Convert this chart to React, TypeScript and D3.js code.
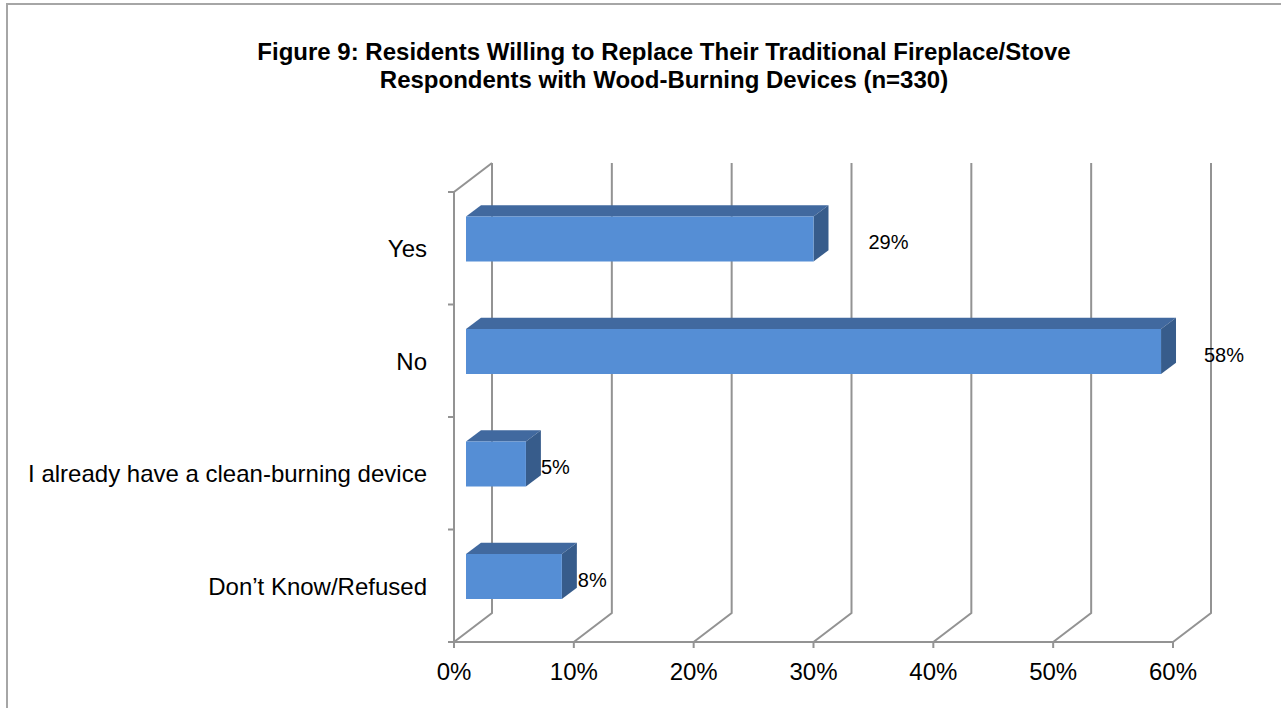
import React from "react";
import * as d3 from "d3";

const categories = ["Yes", "No", "I already have a clean-burning device", "Don\u2019t Know/Refused"];
const values = [29, 58, 5, 8];
const valueLabels = ["29%", "58%", "5%", "8%"];
const xTicks = [0, 10, 20, 30, 40, 50, 60];
const titleLines = [
  "Figure 9: Residents Willing to Replace Their Traditional Fireplace/Stove",
  "Respondents with Wood-Burning Devices (n=330)",
];

const W = 1281;
const H = 708;
const DX = 38; // depth offset x
const DY = 29; // depth offset y
const BAR_D0 = 0.316;
const BAR_D1 = 0.71;
const labelDx = [40, 28, 0, 1];

const FRONT = "#558ED5";
const TOP = "#41699F";
const SIDE = "#375C8B";
const GRID = "#939393";
const FONT = "'Liberation Sans', Arial, sans-serif";

export default function App() {
  const x = d3.scaleLinear().domain([0, 60]).range([454, 1173]);
  const y = d3
    .scaleBand<string>()
    .domain(categories)
    .range([192, 642])
    .paddingInner(0.6)
    .paddingOuter(0.3);
  const top = 192;
  const bottom = 642;
  const step = y.step();
  const bounds = d3.range(categories.length + 1).map((i) => top + i * step);

  const P = (px: number, py: number, d: number): [number, number] => [px + d * DX, py - d * DY];
  const poly = (pts: [number, number][]) => pts.map((p) => p.join(",")).join(" ");

  return (
    <svg
      width={W}
      height={H}
      style={{ position: "absolute", left: 0, top: 0, background: "#fff" }}
      fontFamily={FONT}
    >
      <rect x={7} y={4} width={W + 10} height={H + 10} fill="#fff" stroke="#a6a6a6" strokeWidth={2} />
      {titleLines.map((t, i) => (
        <text
          key={i}
          x={664}
          y={60 + i * 28}
          textAnchor="middle"
          fontSize={24}
          fontWeight="bold"
          fill="#000"
        >
          {t}
        </text>
      ))}

      {/* back gridlines with floor diagonals */}
      {xTicks.map((t) => {
        const [bx, by] = P(x(t), bottom, 1);
        const [tx, ty] = P(x(t), top, 1);
        return (
          <polyline
            key={t}
            points={poly([[tx, ty], [bx, by], [x(t), bottom]])}
            fill="none"
            stroke={GRID}
            strokeWidth={2}
          />
        );
      })}
      {/* left wall front edge */}
      <polyline
        points={poly([P(x(0), top, 1), [x(0), top], [x(0), bottom]])}
        fill="none"
        stroke={GRID}
        strokeWidth={2}
      />
      {/* floor front edge */}
      <line x1={x(0) - 6} y1={bottom} x2={x(60)} y2={bottom} stroke={GRID} strokeWidth={2} />
      {bounds.map((b, i) => (
        <line key={i} x1={x(0) - 6} y1={b} x2={x(0)} y2={b} stroke={GRID} strokeWidth={2} />
      ))}
      {xTicks.map((t) => (
        <line key={t} x1={x(t)} y1={bottom} x2={x(t)} y2={bottom + 6} stroke={GRID} strokeWidth={2} />
      ))}

      {/* bars */}
      {categories.map((c, i) => {
        const y0 = y(c)!;
        const y1 = y0 + y.bandwidth();
        const x0 = x(0);
        const x1 = x(values[i]);
        const f00 = P(x0, y0, BAR_D0);
        const f10 = P(x1, y0, BAR_D0);
        const f11 = P(x1, y1, BAR_D0);
        const f01 = P(x0, y1, BAR_D0);
        const b00 = P(x0, y0, BAR_D1);
        const b10 = P(x1, y0, BAR_D1);
        const b11 = P(x1, y1, BAR_D1);
        const backEnd = b10[0];
        const cy = (f00[1] + f01[1]) / 2;
        return (
          <g key={c}>
            <polygon points={poly([f00, f10, b10, b00])} fill={TOP} />
            <polygon points={poly([f10, f11, b11, b10])} fill={SIDE} />
            <polygon points={poly([f00, f10, f11, f01])} fill={FRONT} />
            <text x={backEnd + labelDx[i]} y={cy + 10} fontSize={20} fill="#000">
              {valueLabels[i]}
            </text>
          </g>
        );
      })}

      {/* category labels */}
      {categories.map((c) => (
        <text
          key={c}
          x={427}
          y={y(c)! + y.bandwidth() / 2 + 9}
          textAnchor="end"
          fontSize={24}
          fill="#000"
        >
          {c}
        </text>
      ))}

      {/* x tick labels */}
      {xTicks.map((t) => (
        <text key={t} x={x(t)} y={680} textAnchor="middle" fontSize={24} fill="#000">
          {t + "%"}
        </text>
      ))}
    </svg>
  );
}
